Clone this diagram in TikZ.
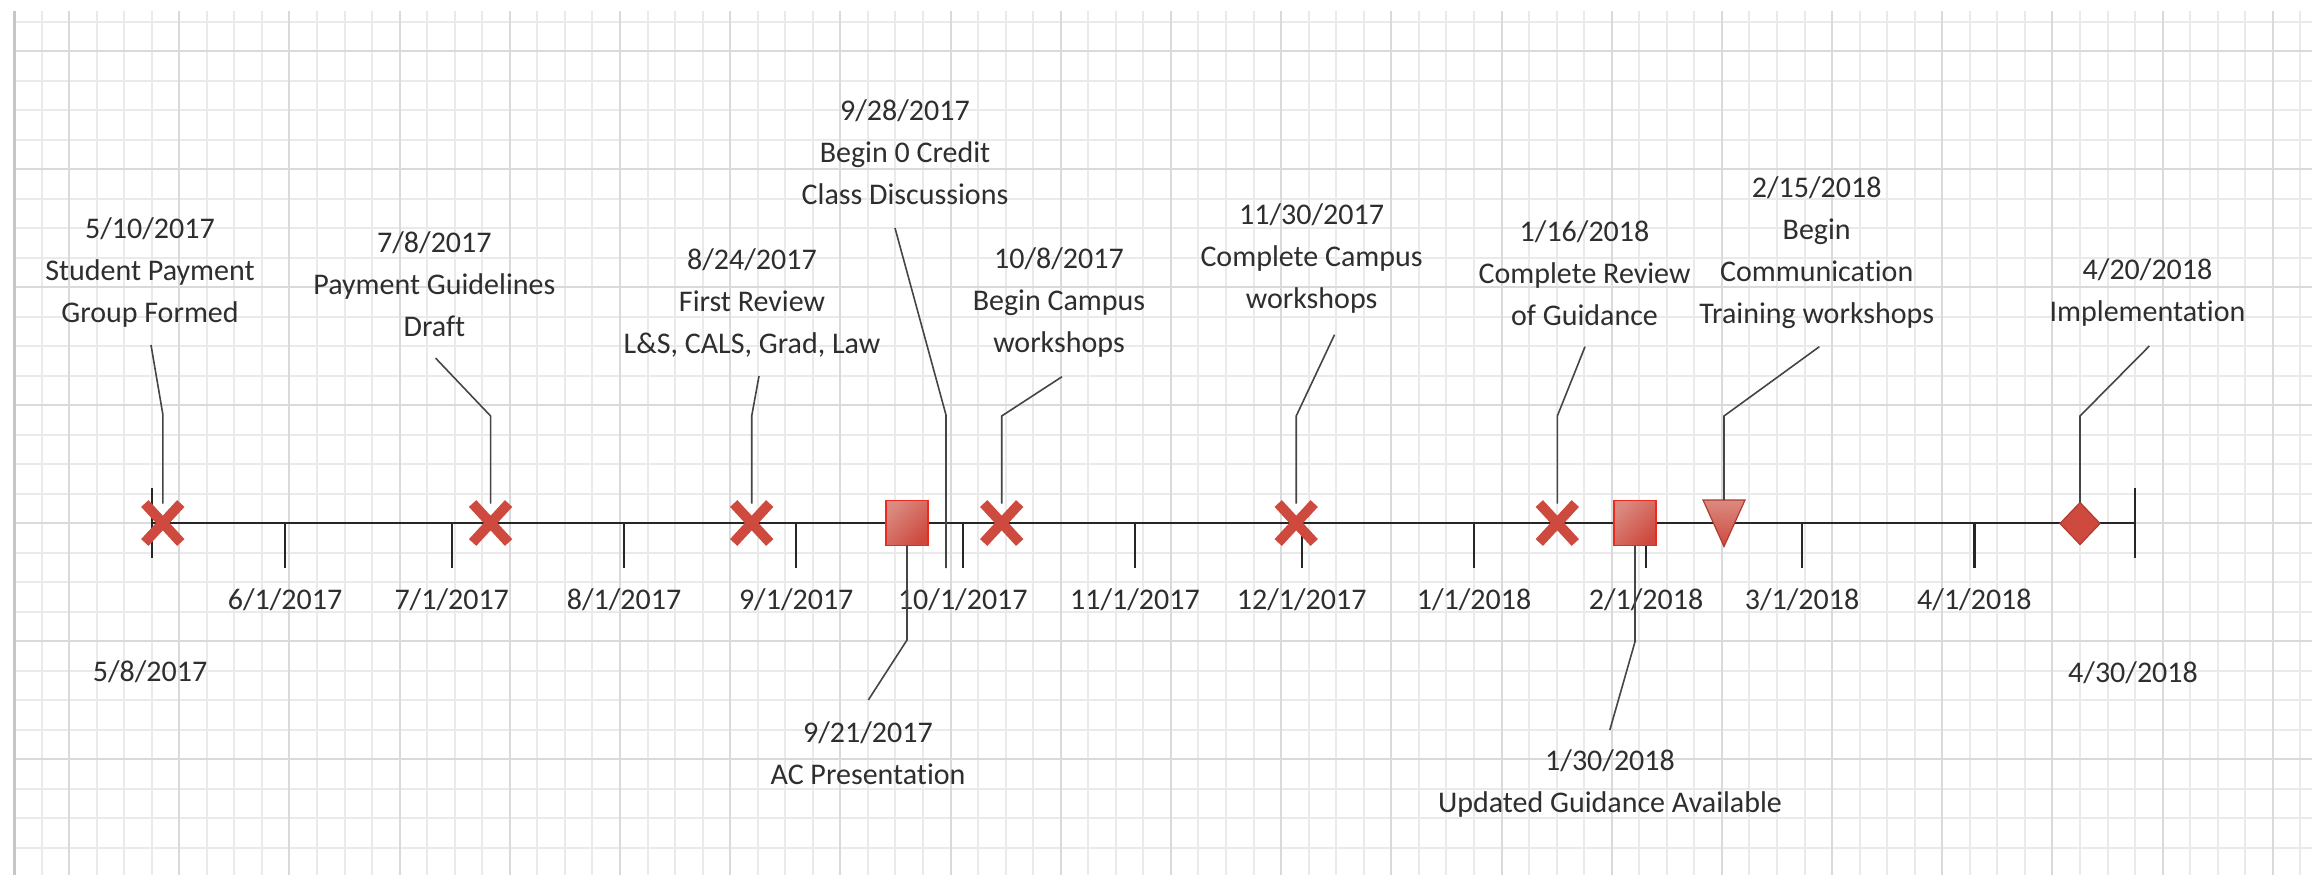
\documentclass[tikz,border=0pt]{standalone}
\usepackage{fontspec}
\setmainfont{Carlito}[Ligatures=NoCommon]
\usetikzlibrary{shapes.misc,shapes.geometric,calc}

\definecolor{gridminor}{HTML}{EAEAEA}
\definecolor{gridmajor}{HTML}{DADADA}
\definecolor{gridedge}{HTML}{C6C6C6}
\definecolor{mred}{HTML}{CE4A3F}
\definecolor{mredlight}{HTML}{DA8A80}
\definecolor{mreddark}{HTML}{B23A2F}
\definecolor{sqedge}{HTML}{EC2B20}
\definecolor{ink}{HTML}{2E2E2E}
\definecolor{leadc}{HTML}{454545}

\begin{document}
\begin{tikzpicture}[x=0.5pt,y=-0.5pt,
  lbl/.style={align=center, font=\fontsize{15}{21}\selectfont, text=ink, inner sep=0pt},
  datelbl/.style={font=\fontsize{15}{21}\selectfont, text=ink, inner sep=0pt},
  axisline/.style={line width=1.2pt, black!85},
  leader/.style={line width=0.8pt, leadc},
  xmark/.style={cross out, draw=mred, line width=5pt, minimum width=18pt,
    minimum height=19.5pt, inner sep=0pt, outer sep=0pt},
  sqmark/.style={rectangle, draw=sqedge, line width=0.9pt, minimum width=21pt,
    minimum height=22.5pt, inner sep=0pt, outer sep=0pt,
    left color=mredlight, right color=mred, shading angle=45},
  dmmark/.style={diamond, draw=mreddark, line width=0.6pt, fill=mred,
    minimum width=20pt, minimum height=21pt, inner sep=0pt, outer sep=0pt},
  trimark/.style={draw=mreddark, line width=0.6pt, top color=mredlight, bottom color=mred}
]
% page and grid paper
\fill[white] (0,0) rectangle (2312,875);
\useasboundingbox (0,0) rectangle (2312,875);
\foreach \k in {0,...,83}{
  \draw[gridminor, line width=1pt] ({14+27.546*\k},11) -- ({14+27.546*\k},875);
}
\foreach \k in {0,...,28}{
  \draw[gridminor, line width=1pt] (14,{21.7+29.5*\k}) -- (2312,{21.7+29.5*\k});
}
\foreach \k in {2,6,...,82}{
  \draw[gridmajor, line width=1pt] ({14+27.546*\k},11) -- ({14+27.546*\k},875);
}
\foreach \k in {1,5,...,25}{
  \draw[gridmajor, line width=1pt] (14,{21.7+29.5*\k}) -- (2312,{21.7+29.5*\k});
}
\draw[gridedge, line width=1.5pt] (14,11) -- (14,875);

% time axis, end ticks and month ticks
\coordinate (a0) at (151.7,523);
\coordinate (a1) at (2135,523);
\draw[axisline] (a0) -- (a1);
\draw[axisline] (151.7,488) -- (151.7,558);
\draw[axisline] (2135,488) -- (2135,558);
\foreach \tx/\tl in {285/6\slash1\slash2017, 451.7/7\slash1\slash2017, 624/8\slash1\slash2017,
  796.2/9\slash1\slash2017, 962.8/10\slash1\slash2017, 1135/11\slash1\slash2017,
  1301.7/12\slash1\slash2017, 1474/1\slash1\slash2018, 1646/2\slash1\slash2018,
  1802/3\slash1\slash2018, 1974.4/4\slash1\slash2018}{
  \draw[axisline] (\tx,523) -- (\tx,568);
  \node[datelbl] at (\tx,600) {\tl};
}
\node[datelbl] (start) at (150,672) {5/8/2017};
\node[datelbl] (finish) at (2133,673) {4/30/2018};

% 9/28 leader runs through the axis like a tick
\node[lbl] (l4) at (905,152) {9/28/2017\\Begin 0 Credit\\Class Discussions};
\coordinate (s4) at (895,228);
\coordinate (k4) at (946,415);
\coordinate (e4) at (946,568);
\draw[leader] (s4) -- (k4) -- (e4);

% milestone markers
\node[xmark] (m1) at (162.8,523) {};
\node[xmark] (m2) at (490.6,523) {};
\node[xmark] (m3) at (751.7,523) {};
\node[sqmark] (m5) at (907,523) {};
\node[xmark] (m6) at (1001.7,523) {};
\node[xmark] (m7) at (1296.2,523) {};
\node[xmark] (m8) at (1557.3,523) {};
\node[sqmark] (m9) at (1635,523) {};
\coordinate (m10) at (1724,500);
\path[trimark] (1703,500) -- (1745,500) -- (1724,546.5) -- cycle;
\node[dmmark] (m11) at (2080,523.5) {};

% labels above the axis
\node[lbl] (l1) at (150,272.5) {5/10/2017\\Student Payment\\Group Formed};
\node[lbl] (l2) at (434.4,284) {7/8/2017\\Payment Guidelines\\Draft};
\node[lbl] (l3) at (752,303) {8/24/2017\\First Review\\L\&S, CALS, Grad, Law};
\node[lbl] (l6) at (1059,302) {10/8/2017\\Begin Campus\\workshops};
\node[lbl] (l7) at (1311.6,258) {11/30/2017\\Complete Campus\\workshops};
\node[lbl] (l8) at (1584.5,273.5) {1/16/2018\\Complete Review\\of Guidance};
\node[lbl] (l10) at (1816.7,253) {2/15/2018\\Begin\\Communication\\Training workshops};
\node[lbl] (l11) at (2147.5,292.5) {4/20/2018\\Implementation};

% labels below the axis
\node[lbl] (l5) at (868,753) {9/21/2017\\AC Presentation};
\node[lbl] (l9) at (1610,783) {1/30/2018\\Updated Guidance Available};

% leader start and knee points
\coordinate (s1) at (151,345);    \coordinate (k1) at (162.8,414);
\coordinate (s2) at (435.5,358);  \coordinate (k2) at (490.6,416);
\coordinate (s3) at (759,376);    \coordinate (k3) at (751.7,416);
\coordinate (s6) at (1062,376.7); \coordinate (k6) at (1001.7,416);
\coordinate (s7) at (1334.5,334.7); \coordinate (k7) at (1296.2,416);
\coordinate (s8) at (1585,346.7); \coordinate (k8) at (1557.3,416);
\coordinate (s10) at (1819.3,346.7); \coordinate (k10) at (1724,416);
\coordinate (s11) at (2149.3,346); \coordinate (k11) at (2080,416);
\coordinate (k5) at (907,640);    \coordinate (s5) at (868.3,700);
\coordinate (k9) at (1635,641.7); \coordinate (s9) at (1609.8,730);

% leaders
\draw[leader] (s1) -- (k1) -- (m1.north);
\draw[leader] (s2) -- (k2) -- (m2.north);
\draw[leader] (s3) -- (k3) -- (m3.north);
\draw[leader] (s6) -- (k6) -- (m6.north);
\draw[leader] (s7) -- (k7) -- (m7.north);
\draw[leader] (s8) -- (k8) -- (m8.north);
\draw[leader] (s10) -- (k10) -- (m10);
\draw[leader] (s11) -- (k11) -- (m11.north);
\draw[leader] (m5.south) -- (k5) -- (s5);
\draw[leader] (m9.south) -- (k9) -- (s9);
\end{tikzpicture}
\end{document}
